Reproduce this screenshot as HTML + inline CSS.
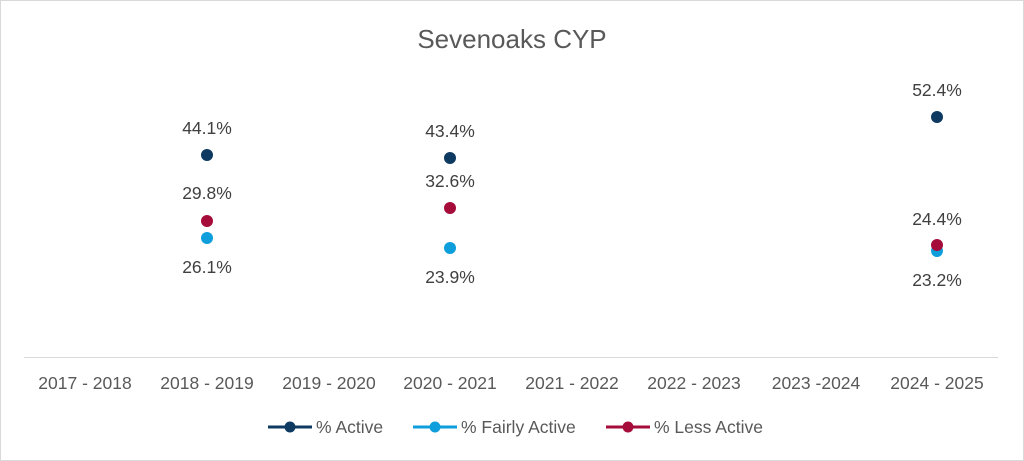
<!DOCTYPE html>
<html><head><meta charset="utf-8"><style>
html,body{margin:0;padding:0;background:#fff;}
svg{display:block;font-family:"Liberation Sans",Calibri,sans-serif;}
</style></head><body>
<svg width="1024" height="461" viewBox="0 0 1024 461" xmlns="http://www.w3.org/2000/svg">
<rect x="0.5" y="0.5" width="1023" height="460" fill="#fff" stroke="#d9d9d9"/>
<text x="512" y="48" text-anchor="middle" font-size="26" fill="#595959">Sevenoaks CYP</text>
<line x1="24" y1="357.5" x2="998" y2="357.5" stroke="#d9d9d9" stroke-width="1"/>
<g font-size="17.5" fill="#595959" text-anchor="middle">
<text x="85" y="389">2017 - 2018</text>
<text x="207" y="389">2018 - 2019</text>
<text x="329" y="389">2019 - 2020</text>
<text x="450" y="389">2020 - 2021</text>
<text x="572" y="389">2021 - 2022</text>
<text x="694" y="389">2022 - 2023</text>
<text x="816" y="389">2023 -2024</text>
<text x="937" y="389">2024 - 2025</text>
</g>
<g>
<circle cx="207" cy="155" r="6" fill="#0e3a62"/>
<circle cx="207" cy="221" r="6" fill="#a50c3a"/>
<circle cx="207" cy="238" r="6" fill="#0d9edb"/>
<circle cx="450" cy="158" r="6" fill="#0e3a62"/>
<circle cx="450" cy="208" r="6" fill="#a50c3a"/>
<circle cx="450" cy="248" r="6" fill="#0d9edb"/>
<circle cx="937" cy="117" r="6" fill="#0e3a62"/>
<circle cx="937" cy="251" r="6" fill="#0d9edb"/>
<circle cx="937" cy="245" r="6" fill="#a50c3a"/>
</g>
<g font-size="17.5" fill="#404040" text-anchor="middle">
<text x="207" y="134">44.1%</text>
<text x="207" y="199">29.8%</text>
<text x="207" y="273">26.1%</text>
<text x="450" y="137">43.4%</text>
<text x="450" y="187">32.6%</text>
<text x="450" y="283">23.9%</text>
<text x="937" y="96">52.4%</text>
<text x="937" y="225">24.4%</text>
<text x="937" y="286">23.2%</text>
</g>
<g font-size="17.5" fill="#595959">
<line x1="268" y1="427" x2="312" y2="427" stroke="#0e3a62" stroke-width="3"/>
<circle cx="290" cy="427" r="5.5" fill="#0e3a62"/>
<text x="316" y="433">% Active</text>
<line x1="413" y1="427" x2="457" y2="427" stroke="#0d9edb" stroke-width="3"/>
<circle cx="435" cy="427" r="5.5" fill="#0d9edb"/>
<text x="461" y="433">% Fairly Active</text>
<line x1="606" y1="427" x2="650" y2="427" stroke="#a50c3a" stroke-width="3"/>
<circle cx="628" cy="427" r="5.5" fill="#a50c3a"/>
<text x="654" y="433">% Less Active</text>
</g>
</svg>
</body></html>
